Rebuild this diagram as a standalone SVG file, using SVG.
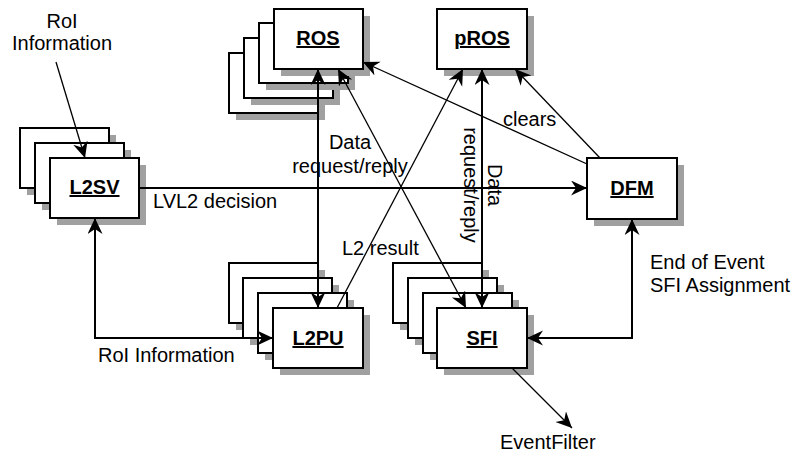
<svg xmlns="http://www.w3.org/2000/svg" width="795" height="456" viewBox="0 0 795 456">
<style>
.bx{fill:#fff;stroke:#000;stroke-width:2}
.sh{fill:#a0a0a0;stroke:none}
.nl{font-family:"Liberation Sans",Arial,sans-serif;font-size:20px;font-weight:bold;text-decoration:underline;text-anchor:middle;fill:#000}
.lb{font-family:"Liberation Sans",Arial,sans-serif;font-size:20px;fill:#000}
.c{fill:none;stroke:#000;stroke-width:2}
.d{fill:none;stroke:#000;stroke-width:1.3}
.e{marker-end:url(#ah)}
.b{marker-start:url(#ah);marker-end:url(#ah)}
</style>
<defs>
<marker id="ah" markerUnits="userSpaceOnUse" markerWidth="18" markerHeight="16" refX="16" refY="7.5" orient="auto-start-reverse" viewBox="0 0 18 16">
<path d="M0,0 L16,7.5 L0,15 L5,7.5 Z" fill="#000"/>
</marker>
</defs>
<rect width="795" height="456" fill="#fff"/>

<g id="ROS">
<rect class="sh" x="236" y="60" width="89" height="60"/><rect class="bx" x="229" y="53" width="89" height="60"/>
<rect class="sh" x="251" y="45" width="89" height="60"/><rect class="bx" x="244" y="38" width="89" height="60"/>
<rect class="sh" x="266" y="30" width="89" height="60"/><rect class="bx" x="259" y="23" width="89" height="60"/>
<rect class="sh" x="281" y="16" width="89" height="60"/><rect class="bx" x="274" y="9" width="89" height="60"/>
<text class="nl" x="318" y="45">ROS</text>
</g>

<g id="pROS">
<rect class="sh" x="444" y="16" width="90" height="60"/><rect class="bx" x="437" y="9" width="90" height="60"/>
<text class="nl" x="482" y="45">pROS</text>
</g>

<g id="L2SV">
<rect class="sh" x="27" y="135" width="89" height="60"/><rect class="bx" x="20" y="128" width="89" height="60"/>
<rect class="sh" x="42" y="150" width="89" height="60"/><rect class="bx" x="35" y="143" width="89" height="60"/>
<rect class="sh" x="57" y="165" width="89" height="60"/><rect class="bx" x="50" y="158" width="89" height="60"/>
<text class="nl" x="94.5" y="194">L2SV</text>
</g>

<g id="DFM">
<rect class="sh" x="594" y="165" width="90" height="61"/><rect class="bx" x="587" y="158" width="90" height="61"/>
<text class="nl" x="632" y="195">DFM</text>
</g>

<g id="L2PU">
<rect class="sh" x="236" y="270" width="89" height="60"/><rect class="bx" x="229" y="263" width="89" height="60"/>
<rect class="sh" x="250" y="285" width="89" height="60"/><rect class="bx" x="243" y="278" width="89" height="60"/>
<rect class="sh" x="265" y="300" width="89" height="60"/><rect class="bx" x="258" y="293" width="89" height="60"/>
<rect class="sh" x="280" y="315" width="90" height="60"/><rect class="bx" x="273" y="308" width="90" height="60"/>
<text class="nl" x="318" y="345">L2PU</text>
</g>

<g id="SFI">
<rect class="sh" x="400" y="270" width="89" height="60"/><rect class="bx" x="393" y="263" width="89" height="60"/>
<rect class="sh" x="415" y="285" width="89" height="60"/><rect class="bx" x="408" y="278" width="89" height="60"/>
<rect class="sh" x="430" y="300" width="89" height="60"/><rect class="bx" x="423" y="293" width="89" height="60"/>
<rect class="sh" x="444" y="315" width="90" height="60"/><rect class="bx" x="437" y="308" width="90" height="60"/>
<text class="nl" x="482" y="345">SFI</text>
</g>

<g id="connectors">
<line class="d e" x1="56" y1="62" x2="85" y2="158"/>
<line class="c e" x1="139" y1="188" x2="587" y2="188"/>
<line class="c b" x1="318" y1="69" x2="318" y2="308"/>
<line class="c b" x1="482" y1="69" x2="482" y2="308"/>
<line class="d b" x1="338" y1="69" x2="466" y2="308"/>
<line class="d e" x1="337" y1="308" x2="463" y2="69"/>
<line class="d e" x1="587" y1="164" x2="363" y2="62"/>
<line class="d e" x1="600" y1="158" x2="515" y2="69"/>
<polyline class="c b" points="95,218 95,338 273,338"/>
<polyline class="c b" points="632,219 632,338 527,338"/>
<line class="d e" x1="512" y1="368" x2="572" y2="428"/>
</g>

<g id="labels">
<text class="lb" x="62" y="28" text-anchor="middle">RoI</text>
<text class="lb" x="62" y="50" text-anchor="middle">Information</text>
<text class="lb" x="153" y="208">LVL2 decision</text>
<text class="lb" x="350" y="149" text-anchor="middle">Data</text>
<text class="lb" x="350" y="173" text-anchor="middle">request/reply</text>
<text class="lb" transform="translate(488,185) rotate(90)" text-anchor="middle">Data</text>
<text class="lb" transform="translate(464,185) rotate(90)" text-anchor="middle">request/reply</text>
<text class="lb" x="503" y="126">clears</text>
<text class="lb" x="342" y="255">L2 result</text>
<text class="lb" x="98" y="362">RoI Information</text>
<text class="lb" x="650" y="269">End of Event</text>
<text class="lb" x="650" y="292">SFI Assignment</text>
<text class="lb" x="500" y="449">EventFilter</text>
</g>
</svg>
